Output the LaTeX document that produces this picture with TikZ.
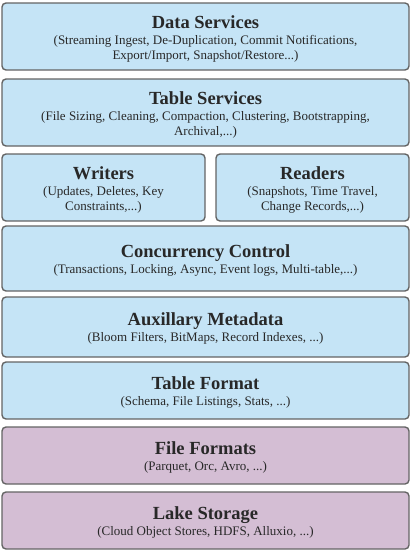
\documentclass[tikz,border=0pt]{standalone}
\usepackage{fontspec}
\setmainfont{Liberation Serif}
\definecolor{layerblue}{RGB}{197,228,246}
\definecolor{layerpurple}{RGB}{212,190,212}
\definecolor{layerborder}{RGB}{100,100,100}
\definecolor{layertext}{RGB}{40,40,40}
\newcommand{\layerttl}[1]{{\fontsize{18.5}{15}\selectfont\bfseries #1}\\[1pt]}
\begin{document}
\begin{tikzpicture}[x=1pt,y=-1pt,
  layer/.style={draw=layerborder, line width=1.4pt, rounded corners=4pt,
    fill=layerblue, inner sep=0pt},
  lower/.style={layer, fill=layerpurple},
  txt/.style={text=layertext, align=center, inner sep=0pt,
    font=\fontsize{13}{15}\selectfont}]
\useasboundingbox (0,0) rectangle (413,554);
\node[layer, minimum width=407, minimum height=67] (ds) at (205.5,36.5) {};
\node[layer, minimum width=407, minimum height=67] (ts) at (205.5,112.5) {};
\node[layer, minimum width=203, minimum height=67] (wr) at (103.5,187.5) {};
\node[layer, minimum width=193, minimum height=67] (rd) at (312.5,187.5) {};
\node[layer, minimum width=407, minimum height=65] (cc) at (205.5,258.5) {};
\node[layer, minimum width=407, minimum height=60] (am) at (205.5,327) {};
\node[layer, minimum width=407, minimum height=57] (tf) at (205.5,390.5) {};
\node[lower, minimum width=407, minimum height=57] (ff) at (205.5,455.5) {};
\node[lower, minimum width=407, minimum height=57] (ls) at (205.5,520.5) {};
\node[txt] (dst) at ([yshift=-2.5pt]ds.center)
  {\layerttl{Data Services}(Streaming Ingest, De-Duplication, Commit Notifications,\\Export/Import, Snapshot/Restore...)};
\node[txt] (tst) at ([yshift=-2.5pt]ts.center)
  {\layerttl{Table Services}(File Sizing, Cleaning, Compaction, Clustering, Bootstrapping,\\Archival,...)};
\node[txt] (wrt) at ([yshift=-2.5pt]wr.center)
  {\layerttl{Writers}(Updates, Deletes, Key\\Constraints,...)};
\node[txt] (rdt) at ([yshift=-2.5pt]rd.center)
  {\layerttl{Readers}(Snapshots, Time Travel,\\Change Records,...)};
\node[txt] (cct) at ([yshift=-1.5pt]cc.center)
  {\layerttl{Concurrency Control}(Transactions, Locking, Async, Event logs, Multi-table,...)};
\node[txt] (amt) at ([yshift=-1.5pt]am.center)
  {\layerttl{Auxillary Metadata}(Bloom Filters, BitMaps, Record Indexes, ...)};
\node[txt] (tft) at ([yshift=-1.5pt]tf.center)
  {\layerttl{Table Format}(Schema, File Listings, Stats, ...)};
\node[txt] (fft) at ([yshift=-1.5pt]ff.center)
  {\layerttl{File Formats}(Parquet, Orc, Avro, ...)};
\node[txt] (lst) at ([yshift=-1.5pt]ls.center)
  {\layerttl{Lake Storage}(Cloud Object Stores, HDFS, Alluxio, ...)};
\end{tikzpicture}
\end{document}
